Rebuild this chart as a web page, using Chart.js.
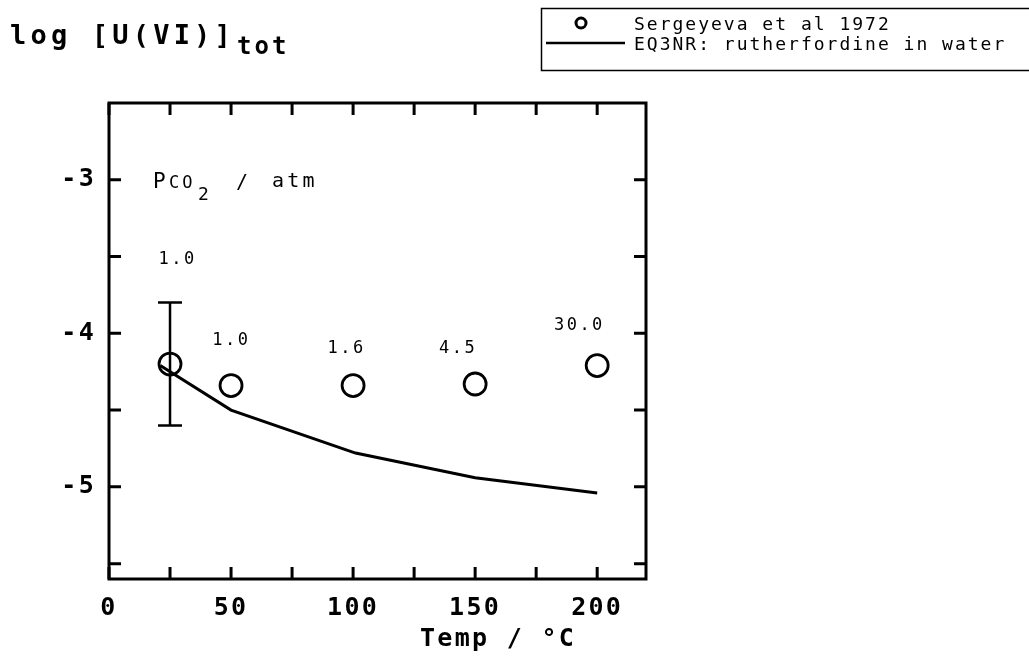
<!DOCTYPE html>
<html>
<head>
<meta charset="utf-8">
<script src="https://cdn.jsdelivr.net/npm/chart.js@4/dist/chart.umd.min.js"></script>
<style>
  html, body { margin: 0; padding: 0; background: #fff; }
</style>
</head>
<body>
<canvas id="grafico" width="1029" height="656"></canvas>
<script>
// Datos
const temps = [25, 50, 100, 150, 200];              // °C
const logU = [-4.20, -4.34, -4.34, -4.33, -4.21];    // Sergeyeva et al 1972
const errHi = [-3.80, null, null, null, null];
const errLo = [-4.60, null, null, null, null];
const pco2Labels = ["1.0", "1.0", "1.6", "4.5", "30.0"];
const pco2LabelT = [27.7, 49.7, 96.9, 142.6, 192.3];
const pco2LabelY = [-3.52, -4.05, -4.10, -4.10, -3.95];

const eq3T = [21, 50, 101, 150, 200];                // EQ3NR: rutherfordine in water
const eq3LogU = [-4.21, -4.50, -4.78, -4.94, -5.04];

const xTicks = [0, 25, 50, 75, 100, 125, 150, 175, 200];
const yTicks = [-5.5, -5, -4.5, -4, -3.5, -3];

const FONT = '"DejaVu Sans Mono", "Liberation Mono", monospace';

function texto(ctx, str, x, y, size, esp, align, base, peso) {
  ctx.save();
  ctx.font = (peso || "normal") + " " + size + "px " + FONT;
  ctx.letterSpacing = esp + "px";
  ctx.textAlign = align || "left";
  ctx.textBaseline = base || "alphabetic";
  ctx.fillStyle = "#000";
  ctx.fillText(str, x, y);
  const w = ctx.measureText(str).width;
  ctx.restore();
  return w;
}

const marco = {
  id: "marco",
  beforeDraw(chart) {
    chart.ctx.letterSpacing = "2.3px";
  },
  afterDatasetsDraw(chart) {
    const ctx = chart.ctx;
    const xs = chart.scales.x, ys = chart.scales.y;
    ctx.save();
    ctx.strokeStyle = "#000";
    ctx.lineWidth = 2.5;
    // barra de error
    temps.forEach((t, i) => {
      if (errHi[i] == null) return;
      const px = xs.getPixelForValue(t);
      const y1 = ys.getPixelForValue(errHi[i]);
      const y2 = ys.getPixelForValue(errLo[i]);
      ctx.beginPath();
      ctx.moveTo(px, y1); ctx.lineTo(px, y2);
      ctx.moveTo(px - 12, y1); ctx.lineTo(px + 12, y1);
      ctx.moveTo(px - 12, y2); ctx.lineTo(px + 12, y2);
      ctx.stroke();
    });
    ctx.restore();

    // etiquetas de PCO2
    pco2Labels.forEach((s, i) => {
      texto(ctx, s, xs.getPixelForValue(pco2LabelT[i]) + 1, ys.getPixelForValue(pco2LabelY[i]), 17, 2.5, "center", "middle");
    });
  },
  afterDraw(chart) {
    const ctx = chart.ctx;
    const a = chart.chartArea;
    const xs = chart.scales.x, ys = chart.scales.y;
    ctx.save();
    ctx.strokeStyle = "#000";
    ctx.lineWidth = 3;
    ctx.strokeRect(a.left, a.top, a.right - a.left, a.bottom - a.top);
    // marcas hacia adentro
    ctx.beginPath();
    xTicks.forEach(v => {
      const px = xs.getPixelForValue(v);
      ctx.moveTo(px, a.bottom); ctx.lineTo(px, a.bottom - 12);
      ctx.moveTo(px, a.top); ctx.lineTo(px, a.top + 12);
    });
    yTicks.forEach(v => {
      const py = ys.getPixelForValue(v);
      ctx.moveTo(a.left, py); ctx.lineTo(a.left + 12, py);
      ctx.moveTo(a.right, py); ctx.lineTo(a.right - 12, py);
    });
    ctx.stroke();
    ctx.restore();

    // titulo del eje y
    const w = texto(ctx, "log [U(VI)]", 10, 44, 27, 4.2, "left", "alphabetic", "bold");
    texto(ctx, "tot", 10 + w + 2, 54, 24, 3, "left", "alphabetic", "bold");

    // titulo del eje x
    texto(ctx, "Temp / °C", 420, 646, 25, 2.3, "left", "alphabetic", "bold");

    // PCO2 / atm
    const ax = xs.getPixelForValue(18), ay = ys.getPixelForValue(-3.055);
    texto(ctx, "P", ax, ay, 21, 0);
    texto(ctx, "CO", ax + 16, ay, 17, 3);
    texto(ctx, "2", ax + 45, ay + 12, 18, 0);
    texto(ctx, "/", ax + 83, ay, 20, 0);
    texto(ctx, "atm", ax + 119, ay - 1, 20, 3.3);

    // leyenda
    ctx.save();
    ctx.strokeStyle = "#000";
    ctx.lineWidth = 1.5;
    ctx.strokeRect(541.5, 8.5, 520, 62);
    ctx.lineWidth = 3;
    ctx.beginPath();
    ctx.arc(581, 23, 5, 0, Math.PI * 2);
    ctx.stroke();
    ctx.lineWidth = 2.5;
    ctx.beginPath();
    ctx.moveTo(546, 43); ctx.lineTo(625, 43);
    ctx.stroke();
    ctx.restore();
    texto(ctx, "Sergeyeva et al 1972", 634, 29.5, 18, 2);
    texto(ctx, "EQ3NR: rutherfordine in water", 634, 50, 18, 2);
  }
};

const ctx = document.getElementById("grafico").getContext("2d");
new Chart(ctx, {
  type: "scatter",
  data: {
    datasets: [
      {
        label: "Sergeyeva et al 1972",
        data: temps.map((t, i) => ({ x: t, y: logU[i] })),
        pointStyle: "circle",
        pointRadius: 11,
        borderWidth: 2.8,
        borderColor: "#000",
        backgroundColor: "rgba(0,0,0,0)"
      },
      {
        label: "EQ3NR: rutherfordine in water",
        data: eq3T.map((t, i) => ({ x: t, y: eq3LogU[i] })),
        showLine: true,
        pointRadius: 0,
        borderWidth: 3,
        borderColor: "#000",
        tension: 0
      }
    ]
  },
  options: {
    responsive: false,
    animation: false,
    layout: { padding: { left: 0, top: 103, right: 383, bottom: 0 } },
    plugins: { legend: { display: false }, tooltip: { enabled: false } },
    scales: {
      x: {
        type: "linear",
        min: 0, max: 220,
        grid: { display: false, drawTicks: false },
        border: { display: false },
        afterFit(s) { s.height = 77; },
        afterBuildTicks(s) { s.ticks = xTicks.map(v => ({ value: v })); },
        ticks: {
          autoSkip: false, maxRotation: 0, padding: 14, color: "#000",
          font: { family: FONT, size: 25, weight: "bold" },
          callback: v => (v % 50 === 0 ? String(v) : "")
        }
      },
      y: {
        type: "linear",
        min: -5.6, max: -2.5,
        grid: { display: false, drawTicks: false },
        border: { display: false },
        afterFit(s) { s.width = 109; },
        afterBuildTicks(s) { s.ticks = yTicks.map(v => ({ value: v })); },
        ticks: {
          autoSkip: false, padding: 13, color: "#000",
          font: { family: FONT, size: 25, weight: "bold" },
          callback: v => (Number.isInteger(v) ? String(v) : "")
        }
      }
    }
  },
  plugins: [marco]
});
</script>
</body>
</html>
